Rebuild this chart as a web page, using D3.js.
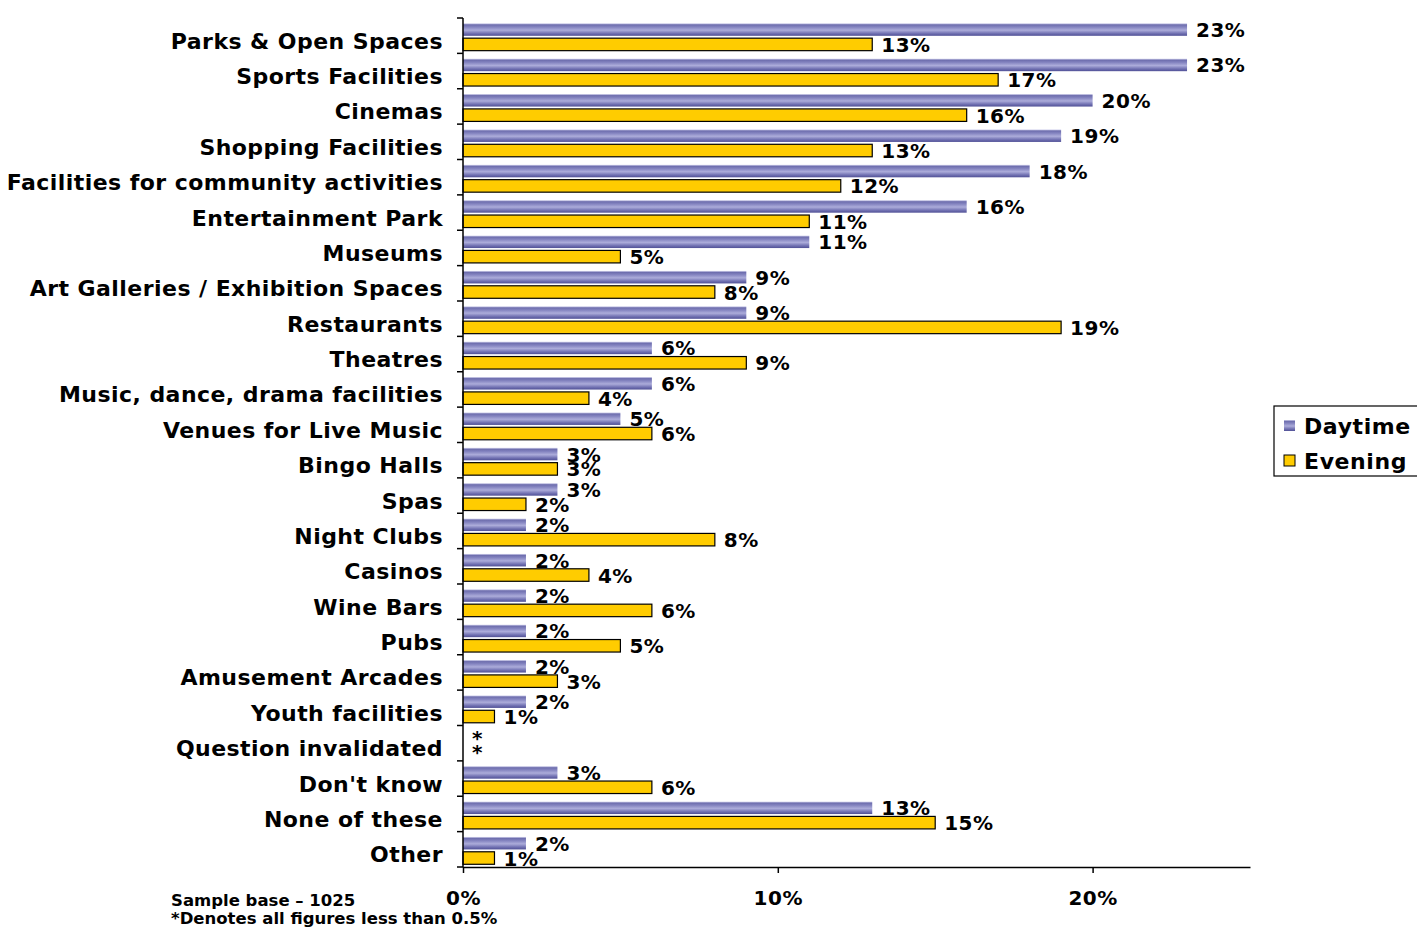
<!DOCTYPE html>
<html>
<head>
<meta charset="utf-8">
<script src="https://cdn.jsdelivr.net/npm/d3@7"></script>
<style>
  html, body { margin: 0; padding: 0; background: #fff; }
  svg { display: block; }
  text { font-family: "DejaVu Sans", Verdana, sans-serif; font-weight: bold; fill: #000; }
</style>
</head>
<body>
<svg id="chart" width="1417" height="927"></svg>
<script>
// Facilities respondents would use, daytime vs evening (% of sample)
const categories = [
  "Parks & Open Spaces", "Sports Facilities", "Cinemas", "Shopping Facilities",
  "Facilities for community activities", "Entertainment Park", "Museums",
  "Art Galleries / Exhibition Spaces", "Restaurants", "Theatres",
  "Music, dance, drama facilities", "Venues for Live Music", "Bingo Halls", "Spas",
  "Night Clubs", "Casinos", "Wine Bars", "Pubs", "Amusement Arcades",
  "Youth facilities", "Question invalidated", "Don't know", "None of these", "Other"
];
const daytime = [23, 23, 20, 19, 18, 16, 11, 9, 9, 6, 6, 5, 3, 3, 2, 2, 2, 2, 2, 2, 0, 3, 13, 2];
const evening = [13, 17, 16, 13, 12, 11, 5, 8, 19, 9, 4, 6, 3, 2, 8, 4, 6, 5, 3, 1, 0, 6, 15, 1];
// "*" marks figures below 0.5%
const daytimeLabels = daytime.map((v, i) => categories[i] === "Question invalidated" ? "*" : v + "%");
const eveningLabels = evening.map((v, i) => categories[i] === "Question invalidated" ? "*" : v + "%");
const xTicks = [0, 10, 20];
const seriesNames = ["Daytime", "Evening"];
const notes = ["Sample base \u2013 1025", "*Denotes all figures less than 0.5%"];

const svg = d3.select("#chart");
const mLeft = 463, mRight = 1250, mTop = 18, mBottom = 867;

const x = d3.scaleLinear().domain([0, 25]).range([mLeft, mRight]);
const y = d3.scaleBand().domain(categories).range([mTop, mBottom]);

// gradient for the daytime bars
const defs = svg.append("defs");
const grad = defs.append("linearGradient").attr("id", "dayGrad")
  .attr("x1", 0).attr("y1", 0).attr("x2", 0).attr("y2", 1);
[[0, "#d8d8f0"], [0.12, "#6e6eae"], [0.3, "#8484c0"], [0.55, "#acacda"], [0.8, "#7474b4"], [1, "#505096"]]
  .forEach(([o, c]) => grad.append("stop").attr("offset", o).attr("stop-color", c));

const bw = y.bandwidth();
const barH = 12.5;
const dayOff = bw * 0.15, eveOff = bw * 0.57;

const g = svg.append("g");

// daytime bars
g.selectAll(".day").data(categories).join("rect")
  .attr("x", x(0)).attr("y", d => y(d) + dayOff)
  .attr("width", (d, i) => x(daytime[i]) - x(0)).attr("height", barH)
  .attr("fill", "url(#dayGrad)")
  .attr("display", (d, i) => daytime[i] > 0 ? null : "none");

// evening bars
g.selectAll(".eve").data(categories).join("rect")
  .attr("x", x(0)).attr("y", d => y(d) + eveOff)
  .attr("width", (d, i) => x(evening[i]) - x(0)).attr("height", barH)
  .attr("fill", "#ffcc00").attr("stroke", "#000").attr("stroke-width", 1.2)
  .attr("display", (d, i) => evening[i] > 0 ? null : "none");

// value labels
g.selectAll(".dayLbl").data(categories).join("text")
  .attr("x", (d, i) => x(daytime[i]) + 9).attr("y", d => y(d) + dayOff + barH / 2 + 7.5)
  .attr("font-size", 20).attr("letter-spacing", 0.5).text((d, i) => daytimeLabels[i]);
g.selectAll(".eveLbl").data(categories).join("text")
  .attr("x", (d, i) => x(evening[i]) + 9).attr("y", d => y(d) + eveOff + barH / 2 + 7.5)
  .attr("font-size", 20).attr("letter-spacing", 0.5).text((d, i) => eveningLabels[i]);

// category axis
svg.append("line").attr("x1", mLeft).attr("x2", mLeft).attr("y1", mTop).attr("y2", mBottom)
  .attr("stroke", "#000").attr("stroke-width", 1.5);
// ticks between categories
svg.selectAll(".ytick").data(d3.range(categories.length + 1)).join("line")
  .attr("x1", mLeft - 6).attr("x2", mLeft)
  .attr("y1", i => mTop + i * y.step()).attr("y2", i => mTop + i * y.step())
  .attr("stroke", "#000").attr("stroke-width", 1.5);
svg.selectAll(".ylbl").data(categories).join("text")
  .attr("x", 443).attr("y", d => y(d) + bw / 2 + 13)
  .attr("text-anchor", "end").attr("font-size", 22).attr("letter-spacing", 0.45).text(d => d);

// value axis
const xAxis = d3.axisBottom(x).tickValues(xTicks).tickSize(6).tickPadding(18)
  .tickFormat(d => d + "%").tickSizeOuter(0);
const xa = svg.append("g").attr("transform", `translate(0,${mBottom})`).call(xAxis);
xa.select(".domain").attr("stroke", "#000").attr("stroke-width", 1.5);
xa.selectAll(".tick line").attr("stroke", "#000").attr("stroke-width", 1.5);
xa.selectAll(".tick text").attr("font-size", 20).attr("letter-spacing", 0.5)
  .attr("font-family", "DejaVu Sans, Verdana, sans-serif")
  .attr("font-weight", "bold").attr("fill", "#000");

// legend
const lg = svg.append("g").attr("transform", "translate(1274,406)");
lg.append("rect").attr("width", 160).attr("height", 70).attr("fill", "#fff")
  .attr("stroke", "#000").attr("stroke-width", 1.2);
seriesNames.forEach((s, i) => {
  const row = lg.append("g").attr("transform", `translate(10,${14 + i * 35})`);
  row.append("rect").attr("width", 11).attr("height", 11)
    .attr("fill", i === 0 ? "url(#dayGrad)" : "#ffcc00")
    .attr("stroke", i === 0 ? "none" : "#000").attr("stroke-width", 1);
  row.append("text").attr("x", 20).attr("y", 13.5).attr("font-size", 22)
    .attr("letter-spacing", 0.6).text(s);
});

// notes
svg.selectAll(".note").data(notes).join("text")
  .attr("x", 171).attr("y", (d, i) => 906 + i * 18).attr("font-size", 16.5).text(d => d);
</script>
</body>
</html>
